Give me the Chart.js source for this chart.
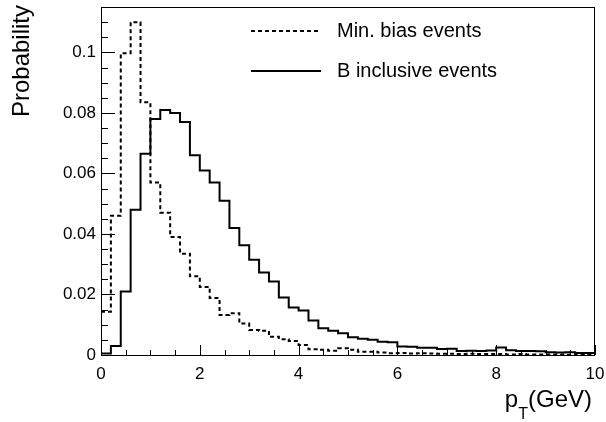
<!DOCTYPE html>
<html lang="en">
<head>
    <meta charset="UTF-8">
    <title>pT distribution</title>
    <script src="https://cdn.jsdelivr.net/npm/chart.js"></script>
    <style>
        body { margin: 0; background: #fff; }
        canvas { display: block; }
    </style>
</head>
<body>
    <canvas id="ptChart" width="606" height="422"></canvas>

    <script>
        // bins of 0.2 GeV from 0 to 10
        const binWidth = 0.2;
        const binEdges = Array.from({ length: 50 }, (_, i) => +(i * binWidth).toFixed(1));

        const minBias = [
            0.0143, 0.046, 0.0997, 0.110, 0.0835, 0.057, 0.047, 0.039, 0.0335, 0.026,
            0.0225, 0.0188, 0.0132, 0.0138, 0.0104, 0.0083, 0.008, 0.006, 0.0052, 0.0046,
            0.0033, 0.0019, 0.0017, 0.0014, 0.0022, 0.0017, 0.0011, 0.0011, 0.0008, 0.0006,
            0.0007, 0.0005, 0.0006, 0.0005, 0.0004, 0.0004, 0.0003, 0.0004, 0.0003, 0.0003,
            0.0003, 0.0002, 0.0003, 0.0002, 0.0002, 0.0002, 0.0002, 0.0001, 0.0002, 0.0001
        ];
        const bInclusive = [
            0.0005, 0.003, 0.021, 0.048, 0.0665, 0.078, 0.081, 0.080, 0.077, 0.066,
            0.061, 0.057, 0.051, 0.042, 0.0363, 0.0315, 0.0273, 0.0243, 0.019, 0.0157,
            0.0147, 0.0114, 0.0088, 0.008, 0.0072, 0.0059, 0.0054, 0.005, 0.0044, 0.0042,
            0.0028, 0.0027, 0.0024, 0.0024, 0.002, 0.0021, 0.0013, 0.0014, 0.0013, 0.0015,
            0.0025, 0.0016, 0.0013, 0.0013, 0.0012, 0.0009, 0.0008, 0.0009, 0.0007, 0.0007
        ];

        const xTickLabels = ['0', '2', '4', '6', '8', '10'];
        const yTickLabels = ['0', '0.02', '0.04', '0.06', '0.08', '0.1'];

        const FONT = '"Liberation Sans", Arial, sans-serif';

        // histogram outline: left edges + closing point at x = 10
        function toSteps(values) {
            const pts = binEdges.map((x, i) => ({ x: x, y: values[i] }));
            pts.push({ x: 10, y: values[values.length - 1] });
            return pts;
        }

        function near(v, step) {
            return Math.abs(v / step - Math.round(v / step)) < 1e-6;
        }

        // ROOT style frame, inside ticks, axis titles and legend
        const rootStyle = {
            id: 'rootStyle',
            afterDatasetsDraw(chart) {
                const ctx = chart.ctx;
                const a = chart.chartArea;
                const xs = chart.scales.x;
                const ys = chart.scales.y;
                ctx.save();
                ctx.strokeStyle = '#000';
                ctx.lineWidth = 1;
                ctx.strokeRect(a.left + 0.5, a.top + 0.5, a.right - a.left - 1, a.bottom - a.top);

                ctx.beginPath();
                xs.ticks.forEach(t => {
                    const px = Math.round(xs.getPixelForValue(t.value)) + 0.5;
                    const len = near(t.value, 2) ? 10 : 5;
                    ctx.moveTo(px, a.bottom);
                    ctx.lineTo(px, a.bottom - len);
                });
                ys.ticks.forEach(t => {
                    const py = Math.round(ys.getPixelForValue(t.value)) + 0.5;
                    const len = near(t.value, 0.02) ? 14 : 7;
                    ctx.moveTo(a.left, py);
                    ctx.lineTo(a.left + len, py);
                });
                ctx.stroke();

                // axis titles
                ctx.fillStyle = '#000';
                ctx.font = '24px ' + FONT;
                ctx.save();
                ctx.translate(29, 5);
                ctx.rotate(-Math.PI / 2);
                ctx.textAlign = 'right';
                ctx.textBaseline = 'alphabetic';
                ctx.fillText('Probability', 0, 0);
                ctx.restore();

                ctx.textAlign = 'left';
                ctx.textBaseline = 'alphabetic';
                const w1 = ctx.measureText('p').width;
                const w3 = ctx.measureText('(GeV)').width;
                ctx.font = '16px ' + FONT;
                const w2 = ctx.measureText('T').width;
                let x0 = 592 - w1 - w2 - w3;
                ctx.font = '24px ' + FONT;
                ctx.fillText('p', x0, 407);
                ctx.font = '16px ' + FONT;
                ctx.fillText('T', x0 + w1, 419);
                ctx.font = '24px ' + FONT;
                ctx.fillText('(GeV)', x0 + w1 + w2, 407);

                // legend
                ctx.font = '20px ' + FONT;
                ctx.textBaseline = 'middle';
                chart.data.datasets.forEach((ds, i) => {
                    const y = 31 + i * 40;
                    ctx.beginPath();
                    ctx.setLineDash(ds.borderDash || []);
                    ctx.lineWidth = ds.borderWidth;
                    ctx.strokeStyle = ds.borderColor;
                    ctx.moveTo(251, y);
                    ctx.lineTo(321, y);
                    ctx.stroke();
                    ctx.setLineDash([]);
                    ctx.fillText(ds.label, 337, y);
                });
                ctx.restore();
            }
        };

        const ctx = document.getElementById('ptChart').getContext('2d');
        new Chart(ctx, {
            type: 'line',
            data: {
                datasets: [
                    {
                        label: 'Min. bias events',
                        data: toSteps(minBias),
                        borderColor: '#000',
                        borderWidth: 2,
                        borderDash: [4, 3],
                        stepped: 'before',
                        pointRadius: 0,
                        fill: false
                    },
                    {
                        label: 'B inclusive events',
                        data: toSteps(bInclusive),
                        borderColor: '#000',
                        borderWidth: 2,
                        stepped: 'before',
                        pointRadius: 0,
                        fill: false
                    }
                ]
            },
            options: {
                responsive: false,
                animation: false,
                layout: { padding: { top: 7, right: 11, left: 0, bottom: 0 } },
                plugins: {
                    legend: { display: false },
                    tooltip: { enabled: false }
                },
                scales: {
                    x: {
                        type: 'linear',
                        min: 0,
                        max: 10,
                        grid: { display: false, drawTicks: false },
                        border: { display: false },
                        ticks: {
                            stepSize: 0.5,
                            autoSkip: false,
                            maxRotation: 0,
                            padding: 9,
                            color: '#000',
                            font: { family: FONT, size: 17 },
                            callback: v => near(v, 2) ? xTickLabels[Math.round(v / 2)] : ''
                        },
                        afterFit: s => {
                            s.height = 67;
                            s.paddingLeft = 0;
                            s.paddingRight = 0;
                        }
                    },
                    y: {
                        min: 0,
                        max: 0.115,
                        grid: { display: false, drawTicks: false },
                        border: { display: false },
                        ticks: {
                            stepSize: 0.005,
                            autoSkip: false,
                            padding: 5,
                            color: '#000',
                            font: { family: FONT, size: 17 },
                            callback: v => near(v, 0.02) ? yTickLabels[Math.round(v / 0.02)] : ''
                        },
                        afterFit: s => {
                            s.width = 101;
                            s.paddingTop = 0;
                            s.paddingBottom = 0;
                        }
                    }
                }
            },
            plugins: [rootStyle]
        });
    </script>
</body>
</html>
